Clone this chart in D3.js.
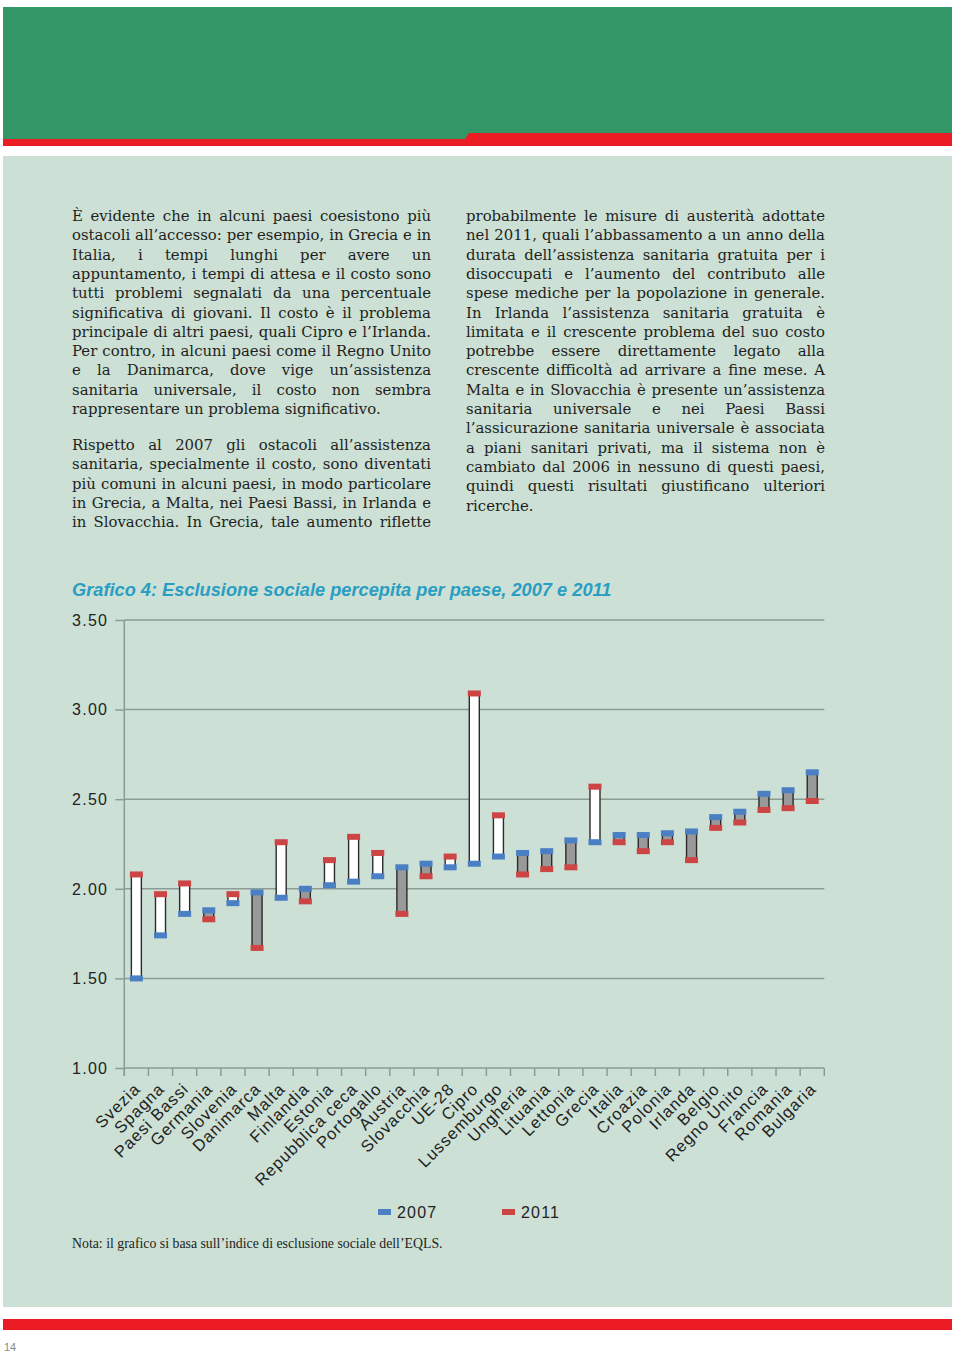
<!DOCTYPE html>
<html><head><meta charset="utf-8">
<script src="https://cdn.jsdelivr.net/npm/d3@7"></script>
<style>
html,body{margin:0;padding:0;background:#fff;}
svg{display:block;}
</style></head>
<body>
<script>
// ---------- DATA ----------
const categories = ["Svezia","Spagna","Paesi Bassi","Germania","Slovenia","Danimarca","Malta","Finlandia","Estonia","Repubblica ceca","Portogallo","Austria","Slovacchia","UE-28","Cipro","Lussemburgo","Ungheria","Lituania","Lettonia","Grecia","Italia","Croazia","Polonia","Irlanda","Belgio","Regno Unito","Francia","Romania","Bulgaria"];
const values2007 = [1.50,1.74,1.86,1.88,1.92,1.98,1.95,2.00,2.02,2.04,2.07,2.12,2.14,2.12,2.14,2.18,2.20,2.21,2.27,2.26,2.30,2.30,2.31,2.32,2.40,2.43,2.53,2.55,2.65];
const values2011 = [2.08,1.97,2.03,1.83,1.97,1.67,2.26,1.93,2.16,2.29,2.20,1.86,2.07,2.18,3.09,2.41,2.08,2.11,2.12,2.57,2.26,2.21,2.26,2.16,2.34,2.37,2.44,2.45,2.49];
const yTicks = [1.00,1.50,2.00,2.50,3.00,3.50];
const seriesNames = ["2007","2011"];
const chartTitle = "Grafico 4: Esclusione sociale percepita per paese, 2007 e 2011";
const noteText = "Nota: il grafico si basa sull\u2019indice di esclusione sociale dell\u2019EQLS.";
const pageNumber = "14";

const leftPara1 = [
"È evidente che in alcuni paesi coesistono più",
"ostacoli all’accesso: per esempio, in Grecia e in",
"Italia, i tempi lunghi per avere un",
"appuntamento, i tempi di attesa e il costo sono",
"tutti problemi segnalati da una percentuale",
"significativa di giovani. Il costo è il problema",
"principale di altri paesi, quali Cipro e l’Irlanda.",
"Per contro, in alcuni paesi come il Regno Unito",
"e la Danimarca, dove vige un’assistenza",
"sanitaria universale, il costo non sembra",
"rappresentare un problema significativo."];
const leftPara2 = [
"Rispetto al 2007 gli ostacoli all’assistenza",
"sanitaria, specialmente il costo, sono diventati",
"più comuni in alcuni paesi, in modo particolare",
"in Grecia, a Malta, nei Paesi Bassi, in Irlanda e",
"in Slovacchia. In Grecia, tale aumento riflette"];
const rightPara = [
"probabilmente le misure di austerità adottate",
"nel 2011, quali l’abbassamento a un anno della",
"durata dell’assistenza sanitaria gratuita per i",
"disoccupati e l’aumento del contributo alle",
"spese mediche per la popolazione in generale.",
"In Irlanda l’assistenza sanitaria gratuita è",
"limitata e il crescente problema del suo costo",
"potrebbe essere direttamente legato alla",
"crescente difficoltà ad arrivare a fine mese. A",
"Malta e in Slovacchia è presente un’assistenza",
"sanitaria universale e nei Paesi Bassi",
"l’assicurazione sanitaria universale è associata",
"a piani sanitari privati, ma il sistema non è",
"cambiato dal 2006 in nessuno di questi paesi,",
"quindi questi risultati giustificano ulteriori",
"ricerche."];

// ---------- PAGE ----------
const W = 960, H = 1353;
const svg = d3.select("body").append("svg").attr("width", W).attr("height", H);
svg.append("rect").attr("width", W).attr("height", H).attr("fill", "#ffffff");

// header
svg.append("rect").attr("x", 3).attr("y", 7).attr("width", 949).attr("height", 133).attr("fill", "#339666");
svg.append("polygon").attr("points", "3,139 465,139 469,133 952,133 952,146 3,146").attr("fill", "#ec1c24");
// panel
svg.append("rect").attr("x", 3).attr("y", 156).attr("width", 949).attr("height", 1151).attr("fill", "#cce0d5");
// bottom red
svg.append("rect").attr("x", 3).attr("y", 1319).attr("width", 949).attr("height", 11).attr("fill", "#ec1c24");
svg.append("text").attr("x", 4).attr("y", 1351).attr("font-family", "Liberation Sans, Arial, sans-serif")
  .attr("font-size", 11).attr("fill", "#8a8a8a").text(pageNumber);

// ---------- BODY TEXT (justified) ----------
const bodyFont = "DejaVu Serif, serif";
let bodySize = 16;
const lineH = 19.3;
const measurer = svg.append("text").attr("font-family", bodyFont).attr("font-size", bodySize).attr("visibility", "hidden");
function wordWidth(w){ measurer.text(w); return measurer.node().getComputedTextLength(); }
// size the body font so the paragraph's closing line matches its width on the page
bodySize = bodySize * 309 / wordWidth(leftPara1[leftPara1.length - 1]);
measurer.attr("font-size", bodySize);
function drawLines(lines, x0, width, yBase, justifyLast){
  lines.forEach((line, i) => {
    const y = yBase + i * lineH;
    const isLast = (i === lines.length - 1) && !justifyLast;
    const g = svg.append("text").attr("font-family", bodyFont).attr("font-size", bodySize).attr("fill", "#231f20").attr("y", y);
    if (isLast) { g.attr("x", x0).text(line); return; }
    const words = line.split(" ");
    const widths = words.map(wordWidth);
    const total = d3.sum(widths);
    const gap = words.length > 1 ? (width - total) / (words.length - 1) : 0;
    let x = x0;
    words.forEach((w, j) => {
      g.append("tspan").attr("x", x).text(w);
      x += widths[j] + gap;
    });
  });
}
drawLines(leftPara1, 72, 359, 221, false);
drawLines(leftPara2, 72, 359, 450, true);
drawLines(rightPara, 466, 359, 221, false);
measurer.remove();

// ---------- CHART ----------
const x0 = 124.3, x1 = 824.3, yTop = 620, yBot = 1068;
const x = d3.scaleBand().domain(categories).range([x0, x1]).paddingInner(0).paddingOuter(0);
const y = d3.scaleLinear().domain([1, 3.5]).range([yBot, yTop]);
const gridColor = "#8d9b94";
const sans = "Liberation Sans, Arial, Helvetica, sans-serif";

// title
const title = svg.append("text").attr("x", 72).attr("y", 596).attr("font-family", sans)
  .attr("font-weight", "bold").attr("font-style", "italic").attr("font-size", 18)
  .attr("fill", "#2a9dc2").text(chartTitle);
(function fit(sel, target){ const w = sel.node().getComputedTextLength(); const fs = +sel.attr("font-size"); sel.attr("font-size", fs * target / w); })(title, 540);

// y axis
const yAxis = d3.axisLeft(y).tickValues(yTicks).tickFormat(d3.format(".2f")).tickSize(9).tickSizeOuter(0);
const gy = svg.append("g").attr("transform", `translate(${x0},0)`).call(yAxis);
gy.select(".domain").attr("stroke", gridColor).attr("stroke-width", 1.5).attr("d", `M0,${yTop}V${yBot + 8}`);
gy.selectAll(".tick line").attr("stroke", gridColor).attr("stroke-width", 1.5);
gy.selectAll(".tick text").attr("font-family", sans).attr("font-size", 16).attr("fill", "#222")
  .attr("letter-spacing", 1.3).attr("x", -16).attr("dy", "0.33em");
// gridlines
svg.append("g").selectAll("line").data(yTicks).join("line")
  .attr("x1", x0).attr("x2", x1).attr("y1", d => y(d)).attr("y2", d => y(d))
  .attr("stroke", gridColor).attr("stroke-width", 1.5);

// x axis ticks
const xAxis = d3.axisBottom(x).tickSize(0).tickSizeOuter(0).tickFormat("");
const gx = svg.append("g").attr("transform", `translate(0,${yBot})`).call(xAxis);
gx.select(".domain").remove();
const bounds = categories.map(c => x(c)).concat([x1]);
gx.selectAll("line.bound").data(bounds).join("line").attr("class", "bound")
  .attr("x1", d => d).attr("x2", d => d).attr("y1", 0).attr("y2", 8)
  .attr("stroke", gridColor).attr("stroke-width", 1.5);
// x labels
svg.append("g").selectAll("text").data(categories).join("text")
  .attr("transform", d => `translate(${x(d) + x.bandwidth() / 2 + 5},${1090}) rotate(-45)`)
  .attr("text-anchor", "end").attr("font-family", sans).attr("font-size", 16.5)
  .attr("letter-spacing", 1.0).attr("fill", "#222").text(d => d);

// bars
const data = categories.map((c, i) => ({c, a: values2007[i], b: values2011[i]}));
const barW = 10;
const bars = svg.append("g").selectAll("g").data(data).join("g");
bars.append("rect")
  .attr("x", d => x(d.c) + x.bandwidth() / 2 - barW / 2)
  .attr("y", d => y(Math.max(d.a, d.b)))
  .attr("width", barW)
  .attr("height", d => Math.abs(y(d.a) - y(d.b)))
  .attr("fill", d => d.b > d.a ? "#ffffff" : "#999999")
  .attr("stroke", "#2b2b2b").attr("stroke-width", 1.4);
const mW = 13, mH = 6;
bars.append("rect").attr("class", "m2007")
  .attr("x", d => x(d.c) + x.bandwidth() / 2 - mW / 2).attr("y", d => y(d.a) - mH / 2)
  .attr("width", mW).attr("height", mH).attr("fill", "#4a7fc4");
bars.append("rect").attr("class", "m2011")
  .attr("x", d => x(d.c) + x.bandwidth() / 2 - mW / 2).attr("y", d => y(d.b) - mH / 2)
  .attr("width", mW).attr("height", mH).attr("fill", "#cc4444");

// legend
const legendColors = ["#4a7fc4", "#cc4444"];
const legendX = [378, 502];
const lg = svg.append("g").selectAll("g").data(seriesNames).join("g")
  .attr("transform", (d, i) => `translate(${legendX[i]},1212)`);
lg.append("rect").attr("x", 0).attr("y", -3).attr("width", 13).attr("height", 6).attr("fill", (d, i) => legendColors[i]);
lg.append("text").attr("x", 19).attr("y", 6).attr("font-family", sans).attr("font-size", 16)
  .attr("letter-spacing", 1.2).attr("fill", "#222").text(d => d);

// note
const note = svg.append("text").attr("x", 72).attr("y", 1248).attr("font-family", "Liberation Serif, serif")
  .attr("font-size", 13).attr("fill", "#231f20").text(noteText);
(function fit(sel, target){ const w = sel.node().getComputedTextLength(); const fs = +sel.attr("font-size"); sel.attr("font-size", fs * target / w); })(note, 371);
</script>
</body></html>
